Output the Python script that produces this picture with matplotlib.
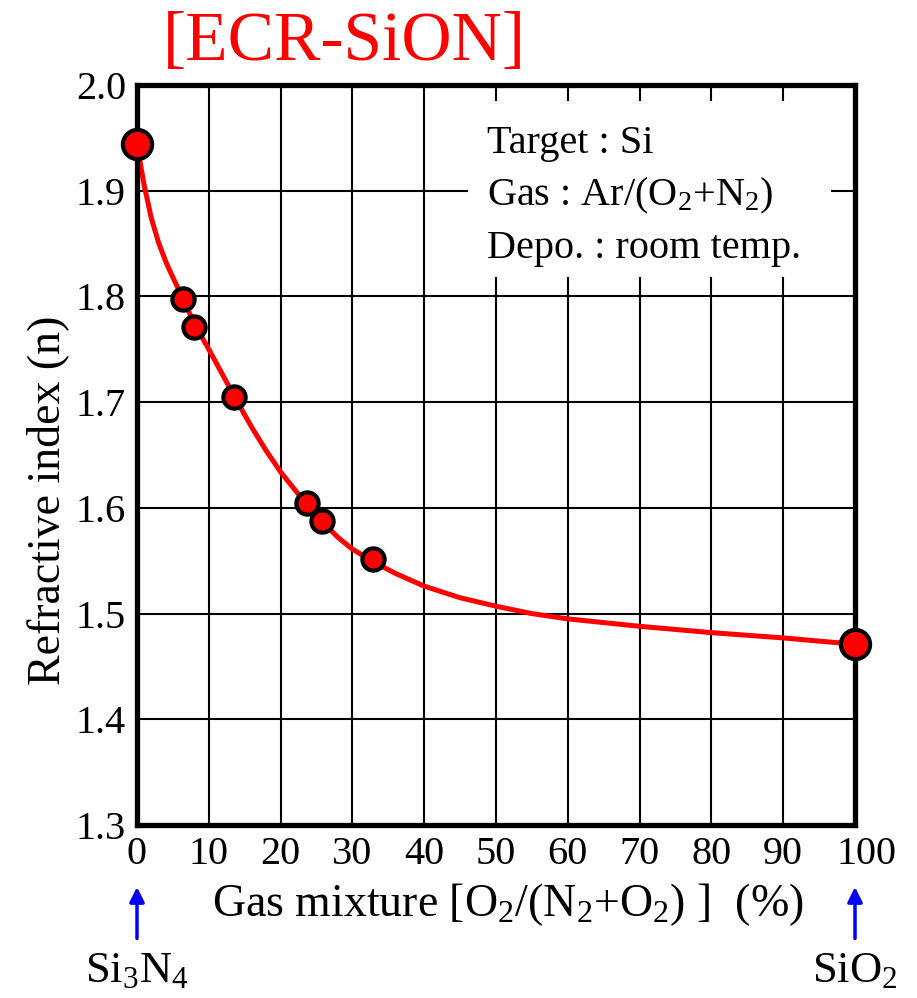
import matplotlib
matplotlib.use('Agg')
import matplotlib.pyplot as plt
from matplotlib.patches import Rectangle
from matplotlib.transforms import ScaledTranslation

plt.rcParams['font.family'] = ['Liberation Serif', 'DejaVu Serif']
plt.rcParams['mathtext.fontset'] = 'custom'
plt.rcParams['mathtext.rm'] = 'Liberation Serif'
plt.rcParams['mathtext.it'] = 'Liberation Serif:italic'

# measured points, O2 ratio (%) vs refractive index
x_meas = [6.4, 8.0, 13.5, 23.7, 25.8, 32.9]
n_meas = [1.798, 1.771, 1.705, 1.605, 1.588, 1.552]
# end members: Si3N4 and SiO2
x_end = [0, 100]
n_end = [1.944, 1.471]

# fitted curve as drawn in the figure
x_curve = [0, 1, 2, 3, 4, 5, 6.4, 8, 10, 12, 13.5, 16, 18, 20, 22, 23.7,
           25.8, 28, 30, 32.9, 36, 40, 45, 50, 55, 60, 70, 80, 90, 100]
n_curve = [1.944, 1.905, 1.874, 1.851, 1.833, 1.818, 1.798, 1.774, 1.750,
           1.725, 1.706, 1.676, 1.654, 1.634, 1.617, 1.603, 1.587, 1.572,
           1.561, 1.549, 1.538, 1.526, 1.515, 1.507, 1.500, 1.495, 1.488,
           1.482, 1.477, 1.471]

xticks = list(range(0, 101, 10))
yticks = [1.3, 1.4, 1.5, 1.6, 1.7, 1.8, 1.9, 2.0]

fig = plt.figure(figsize=(9.17, 9.98), dpi=100)
ax = fig.add_axes([0.1494, 0.1733, 0.783, 0.7415])

ax.set_xlim(0, 100)
ax.set_ylim(1.3, 2.0)
ax.set_xticks(xticks)
ax.set_yticks(yticks)
ax.set_yticklabels(['%.1f' % v for v in yticks])
ax.tick_params(length=0, labelsize=29, pad=8)
ax.grid(True, color='black', linewidth=1.5)
ax.set_axisbelow(True)
for s in ax.spines.values():
    s.set_linewidth(3.8)
    s.set_zorder(5)

# nudge the "100" label to the right like the original
fig.canvas.draw()
lbl = ax.get_xticklabels()[-1]
lbl.set_transform(lbl.get_transform() + ScaledTranslation(0.11, 0, fig.dpi_scale_trans))

# white box behind the conditions text
ax.add_patch(Rectangle((46.1, 1.818), 50.5, 0.167, facecolor='white',
                       edgecolor='none', zorder=2))
ax.text(48.8, 1.945, 'Target : Si', fontsize=29, va='center', zorder=3)
ax.text(48.8, 1.895, 'Gas : Ar/(O$_2$+N$_2$)', fontsize=29, va='center', zorder=3)
ax.text(48.8, 1.845, 'Depo. : room temp.', fontsize=29, va='center', zorder=3)

ax.plot(x_curve, n_curve, color='red', linewidth=3.6, zorder=4,
        solid_capstyle='round')
ax.plot(x_meas, n_meas, 'o', color='red', markeredgecolor='black',
        markersize=16, markeredgewidth=3, zorder=6, clip_on=False)
ax.plot(x_end, n_end, 'o', color='red', markeredgecolor='black',
        markersize=21, markeredgewidth=3, zorder=6, clip_on=False)

ax.set_xlabel('Gas mixture [O$_2$/(N$_2$+O$_2$) ]  (%)', fontsize=33)
ax.xaxis.set_label_coords(0.517, -0.108)
ax.xaxis.label.set_va('center')
ax.set_ylabel('Refractive index (n)', fontsize=33)
ax.yaxis.set_label_coords(-0.125, 0.439)
ax.yaxis.label.set_va('center')
ax.yaxis.label.set_ha('center')

fig.text(0.376, 0.957, '[ECR-SiON]', color='red', fontsize=50,
         ha='center', va='center')

# arrows pointing at the two end members
for xv, lab in zip(x_end, ['Si$_3$N$_4$', 'SiO$_2$']):
    ax.annotate('', xy=(xv, -0.08), xytext=(xv, -0.157),
                xycoords=('data', 'axes fraction'),
                arrowprops=dict(arrowstyle='-|>', color='blue', lw=2.5,
                                mutation_scale=22), annotation_clip=False)
    ax.text(xv, -0.197, lab, transform=ax.get_xaxis_transform(),
            fontsize=32, ha='center', va='center')

fig.savefig('out.png', dpi=100)
